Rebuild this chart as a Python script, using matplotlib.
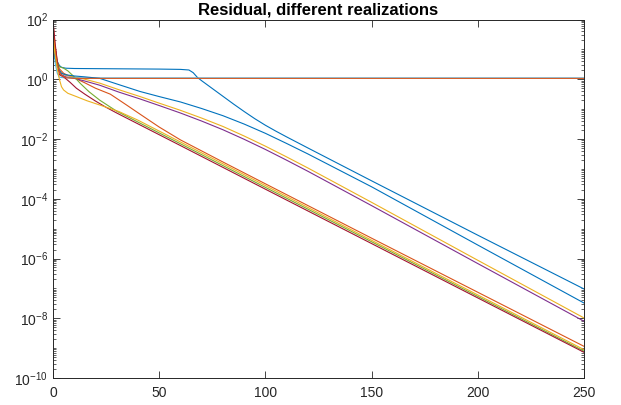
import numpy as np
import matplotlib
matplotlib.use("Agg")
import matplotlib.pyplot as plt
from matplotlib.ticker import LogLocator, FixedLocator, NullFormatter

plt.rcParams['font.family'] = ['Liberation Sans', 'DejaVu Sans']
plt.rcParams['mathtext.fontset'] = 'custom'
plt.rcParams['mathtext.rm'] = 'Liberation Sans'
plt.rcParams['mathtext.it'] = 'Liberation Sans'
plt.rcParams['mathtext.bf'] = 'Liberation Sans:bold'

# ---- data: iteration index and log10(residual) ----
blue1_x = [0, 1, 2, 3, 4, 6, 10, 20, 30, 40, 50, 60, 64, 66, 68, 70, 75, 80, 85, 90, 95, 100, 105, 110, 120, 150, 200, 250]
blue1_y = [1.3, 0.85, 0.6, 0.46, 0.4, 0.37, 0.36, 0.355, 0.35, 0.345, 0.34, 0.33, 0.31, 0.22, 0.06, -0.05, -0.31, -0.57, -0.83, -1.08, -1.32, -1.54, -1.74, -1.93, -2.3, -3.4, -5.22, -7.02]

orange1_x = [0, 1, 2, 3, 5, 7, 9, 12, 15, 20, 27, 35, 41, 50, 60, 80, 100, 150, 200, 250]
orange1_y = [1.9, 1.1, 0.6, 0.35, 0.2, 0.13, 0.08, -0.02, -0.12, -0.3, -0.5, -0.88, -1.17, -1.6, -2.03, -2.77, -3.5, -5.32, -7.13, -8.94]

yellow1_x = [0, 1, 2, 3, 4, 6, 10, 15, 22, 31, 41, 50, 60, 70, 80, 90, 100, 110, 120, 150, 200, 250]
yellow1_y = [1.35, 0.8, 0.5, 0.3, 0.2, 0.13, 0.08, 0.0, -0.13, -0.35, -0.58, -0.8, -1.04, -1.3, -1.58, -1.9, -2.24, -2.6, -2.97, -4.12, -6.06, -7.99]

purple_x = [0, 1, 2, 3, 4, 6, 10, 15, 22, 31, 41, 50, 60, 70, 80, 90, 100, 110, 120, 150, 200, 250]
purple_y = [1.3, 0.75, 0.45, 0.25, 0.15, 0.08, 0.03, -0.06, -0.2, -0.43, -0.66, -0.88, -1.13, -1.4, -1.69, -2.01, -2.35, -2.71, -3.08, -4.23, -6.17, -8.10]

green_x = [0, 1, 2, 3, 5, 7, 10, 13, 17, 22, 30, 60, 100, 150, 200, 250]
green_y = [1.3, 0.8, 0.55, 0.42, 0.37, 0.28, 0.08, -0.15, -0.42, -0.7, -1.07, -2.16, -3.62, -5.44, -7.27, -9.10]

lightblue_x = [0, 1, 2, 3, 5, 10, 50, 100, 150, 200, 250]
lightblue_y = [1.25, 0.55, 0.2, 0.07, 0.05, 0.045, 0.045, 0.045, 0.045, 0.045, 0.045]

darkred_x = [0, 1, 2, 3, 5, 8, 11, 15, 20, 25, 30, 60, 100, 150, 200, 250]
darkred_y = [1.95, 1.2, 0.6, 0.15, 0.08, -0.1, -0.3, -0.5, -0.73, -0.94, -1.13, -2.22, -3.68, -5.5, -7.32, -9.14]

blue2_x = [0, 1, 2, 3, 4, 6, 10, 15, 22, 31, 41, 50, 60, 70, 80, 90, 100, 110, 120, 150, 200, 250]
blue2_y = [1.1, 0.7, 0.45, 0.3, 0.2, 0.15, 0.11, 0.08, 0.03, -0.18, -0.41, -0.58, -0.76, -0.98, -1.22, -1.5, -1.81, -2.15, -2.5, -3.6, -5.55, -7.49]

orange2_x = [0, 1, 2, 3, 4, 6, 10, 50, 100, 150, 200, 250]
orange2_y = [1.6, 0.95, 0.5, 0.25, 0.12, 0.05, 0.03, 0.03, 0.03, 0.03, 0.03, 0.03]

yellow2_x = [0, 1, 2, 3, 4, 5, 7, 11, 16, 24, 31, 40, 60, 100, 150, 200, 250]
yellow2_y = [1.4, 0.8, 0.35, 0.0, -0.25, -0.36, -0.47, -0.58, -0.72, -0.91, -1.08, -1.37, -2.1, -3.56, -5.39, -7.22, -9.05]

series = [
    (blue1_x, blue1_y, '#0072BD'),
    (orange1_x, orange1_y, '#D95319'),
    (yellow1_x, yellow1_y, '#EDB120'),
    (purple_x, purple_y, '#7E2F8E'),
    (green_x, green_y, '#77AC30'),
    (lightblue_x, lightblue_y, '#4DBEEE'),
    (darkred_x, darkred_y, '#A2142F'),
    (blue2_x, blue2_y, '#0072BD'),
    (orange2_x, orange2_y, '#D95319'),
    (yellow2_x, yellow2_y, '#EDB120'),
]

title_text = "Residual, different realizations"
x_ticks = [0, 50, 100, 150, 200, 250]
y_ticks = [1e-10, 1e-8, 1e-6, 1e-4, 1e-2, 1e0, 1e2]

fig = plt.figure(figsize=(6.21, 4.05), dpi=100)
ax = fig.add_axes([53 / 621, 27 / 405, 531 / 621, 358.5 / 405])

for xs, ys, c in series:
    ax.semilogy(xs, 10.0 ** np.array(ys), color=c, lw=0.8)

axc = '#262626'
ax.set_xlim(0, 250)
ax.set_ylim(1e-10, 1e2)
ax.set_xticks(x_ticks)
ax.yaxis.set_major_locator(FixedLocator(y_ticks))
ax.yaxis.set_minor_locator(LogLocator(base=10, subs=np.arange(1, 10), numticks=100))
ax.yaxis.set_minor_formatter(NullFormatter())
ax.tick_params(axis='both', which='both', direction='in', top=True, right=True,
               colors=axc, labelsize=10, labelcolor=axc)
ax.tick_params(axis='both', which='major', length=5, width=0.6)
ax.tick_params(axis='y', which='minor', length=2.5, width=0.5)
ax.tick_params(axis='x', which='major', pad=6)
for s in ax.spines.values():
    s.set_color(axc)
    s.set_linewidth(0.7)

ax.set_title(title_text, fontsize=12, fontweight='bold', pad=3.5, color='black')

fig.savefig('out.png', dpi=100)
